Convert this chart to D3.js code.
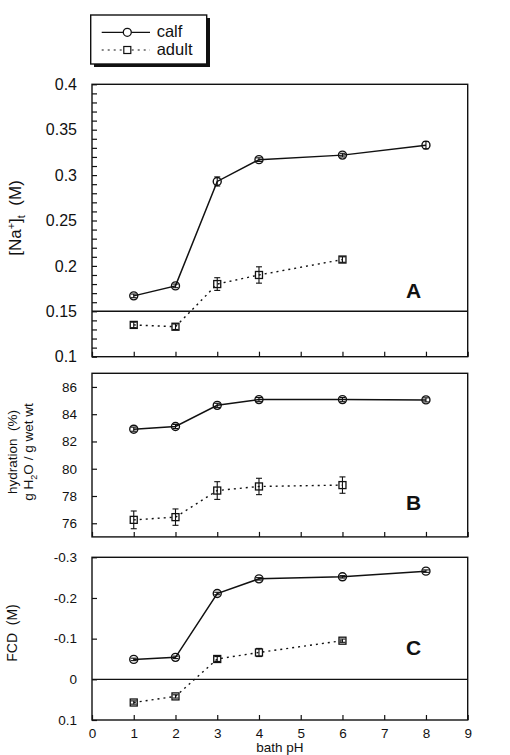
<!DOCTYPE html>
<html>
<head>
<meta charset="utf-8">
<script src="https://cdn.jsdelivr.net/npm/d3@7"></script>
<style>
  body { margin: 0; background: #fff; }
  svg { font-family: "Liberation Sans", Arial, sans-serif; }
</style>
</head>
<body>
<div id="viz-container"></div>
<script>
// bath pH for each group
let pHCalf = [1, 2, 3, 4, 6, 8];
let pHAdult = [1, 2, 3, 4, 6];

// panel A: [Na+]t (M)
let naCalf = [0.167, 0.178, 0.293, 0.317, 0.322, 0.333];
let naCalfErr = [0.002, 0.002, 0.005, 0.002, 0.002, 0.004];
let naAdult = [0.135, 0.133, 0.180, 0.190, 0.207];
let naAdultErr = [0.003, 0.003, 0.007, 0.009, 0.003];

// panel B: hydration (%)
let hydCalf = [82.9, 83.1, 84.65, 85.07, 85.07, 85.05];
let hydCalfErr = [0.15, 0.15, 0.15, 0.15, 0.15, 0.15];
let hydAdult = [76.25, 76.45, 78.4, 78.7, 78.8];
let hydAdultErr = [0.65, 0.6, 0.65, 0.6, 0.6];

// panel C: FCD (M)
let fcdCalf = [-0.049, -0.054, -0.211, -0.247, -0.252, -0.266];
let fcdCalfErr = [0.003, 0.003, 0.003, 0.003, 0.003, 0.003];
let fcdAdult = [0.057, 0.042, -0.050, -0.066, -0.095];
let fcdAdultErr = [0.004, 0.004, 0.006, 0.010, 0.004];

let xTicks = [0, 1, 2, 3, 4, 5, 6, 7, 8, 9];
let naTicks = [0.1, 0.15, 0.2, 0.25, 0.3, 0.35, 0.4];
let naLabels = ["0.1", "0.15", "0.2", "0.25", "0.3", "0.35", "0.4"];
let hydTicks = [76, 78, 80, 82, 84, 86];
let fcdTicks = [-0.3, -0.2, -0.1, 0, 0.1];
let fcdLabels = ["-0.3", "-0.2", "-0.1", "0", "0.1"];

let viz = d3.select("#viz-container")
    .append("svg")
        .attr("width", 510)
        .attr("height", 755)
;

let x = d3.scaleLinear().domain([0, 9]).range([92, 467.7]);

let yA = d3.scaleLinear().domain([0.1, 0.4]).range([356.7, 84.3]);
let yB = d3.scaleLinear().domain([75, 87]).range([536.9, 373.3]);
let yC = d3.scaleLinear().domain([-0.3, 0.1]).range([557.3, 720]);

function drawFrame(y) {
    let r = y.range();
    viz.append("rect")
        .attr("x", x(0)).attr("y", Math.min(r[0], r[1]))
        .attr("width", x(9) - x(0)).attr("height", Math.abs(r[0] - r[1]))
        .attr("fill", "none").attr("stroke", "#111").attr("stroke-width", 1.4);
}

function drawYAxis(y, ticks, labels, size) {
    let ax = d3.axisLeft(y).tickValues(ticks).tickSize(-5).tickPadding(15)
        .tickFormat((d, i) => labels[i]);
    let g = viz.append("g").attr("transform", `translate(${x(0)},0)`).call(ax);
    g.select(".domain").remove();
    g.selectAll("line").attr("stroke", "#111").attr("stroke-width", 1.2);
    g.selectAll("text").attr("font-size", size).attr("fill", "#111");
}

function drawXTicks(y, withLabels) {
    let yb = Math.max(y.range()[0], y.range()[1]);
    let ax = d3.axisBottom(x).tickValues(xTicks).tickSize(-5).tickPadding(8)
        .tickFormat(withLabels ? d3.format("d") : "");
    let g = viz.append("g").attr("transform", `translate(0,${yb})`).call(ax);
    g.select(".domain").remove();
    g.selectAll("line").attr("stroke", "#111").attr("stroke-width", 1.2);
    g.selectAll("text").attr("font-size", 13.5).attr("fill", "#111");
}

function drawSeries(y, xs, vals, errs, kind) {
    let pts = xs.map((d, i) => ({ x: d, v: vals[i], e: errs[i] }));
    let line = d3.line().x(d => x(d.x)).y(d => y(d.v));
    viz.append("path")
        .datum(pts)
        .attr("d", line)
        .attr("fill", "none")
        .attr("stroke", "#111")
        .attr("stroke-width", kind == "calf" ? 1.5 : 1.4)
        .attr("stroke-dasharray", kind == "calf" ? null : "2,4");

    // error bars
    let eb = viz.append("g").attr("stroke", "#111").attr("stroke-width", 1.1);
    pts.forEach(d => {
        let y1 = y(d.v - d.e), y2 = y(d.v + d.e);
        eb.append("line").attr("x1", x(d.x)).attr("x2", x(d.x)).attr("y1", y1).attr("y2", y2);
        eb.append("line").attr("x1", x(d.x) - 3).attr("x2", x(d.x) + 3).attr("y1", y1).attr("y2", y1);
        eb.append("line").attr("x1", x(d.x) - 3).attr("x2", x(d.x) + 3).attr("y1", y2).attr("y2", y2);
    });

    if (kind == "calf") {
        viz.selectAll(null).data(pts).enter()
            .append("circle")
                .attr("cx", d => x(d.x))
                .attr("cy", d => y(d.v))
                .attr("r", 4)
                .attr("fill", "none")
                .attr("stroke", "#111")
                .attr("stroke-width", 1.4);
    } else {
        viz.selectAll(null).data(pts).enter()
            .append("rect")
                .attr("x", d => x(d.x) - 3.5)
                .attr("y", d => y(d.v) - 3.5)
                .attr("width", 7)
                .attr("height", 7)
                .attr("fill", "none")
                .attr("stroke", "#111")
                .attr("stroke-width", 1.3);
    }
}

function hLine(y, v) {
    viz.append("line")
        .attr("x1", x(0)).attr("x2", x(9))
        .attr("y1", y(v)).attr("y2", y(v))
        .attr("stroke", "#111").attr("stroke-width", 1.4);
}

// panel A
drawFrame(yA);
drawYAxis(yA, d3.range(10, 41).map(d => d / 100), d3.range(10, 41).map(d => {
    let i = naTicks.findIndex(t => Math.abs(t - d / 100) < 1e-9);
    return i >= 0 ? naLabels[i] : "";
}), 16);
drawXTicks(yA, false);
hLine(yA, 0.15);
drawSeries(yA, pHAdult, naAdult, naAdultErr, "adult");
drawSeries(yA, pHCalf, naCalf, naCalfErr, "calf");

// panel B
drawFrame(yB);
drawYAxis(yB, hydTicks, hydTicks.map(String), 13.5);
drawXTicks(yB, false);
drawSeries(yB, pHAdult, hydAdult, hydAdultErr, "adult");
drawSeries(yB, pHCalf, hydCalf, hydCalfErr, "calf");

// panel C
drawFrame(yC);
drawYAxis(yC, fcdTicks, fcdLabels, 13.5);
drawXTicks(yC, true);
hLine(yC, 0);
drawSeries(yC, pHAdult, fcdAdult, fcdAdultErr, "adult");
drawSeries(yC, pHCalf, fcdCalf, fcdCalfErr, "calf");

// panel letters
let letters = [["A", yA, 0.165], ["B", yB, 77.0], ["C", yC, -0.06]];
letters.forEach(l => {
    viz.append("text")
        .attr("x", 413.5).attr("y", l[1](l[2]))
        .attr("text-anchor", "middle")
        .attr("font-size", 21).attr("font-weight", "bold")
        .attr("fill", "#111")
        .text(l[0]);
});

// y titles
let tA = viz.append("text")
    .attr("transform", "translate(21,218) rotate(-90)")
    .attr("text-anchor", "middle").attr("font-size", 17).attr("fill", "#111")
    .attr("xml:space", "preserve");
tA.append("tspan").text("[Na");
tA.append("tspan").attr("dy", -6).attr("font-size", 11).text("+");
tA.append("tspan").attr("dy", 6).text("]");
tA.append("tspan").attr("dy", 4).attr("font-size", 11).text("t");
tA.append("tspan").attr("dy", -4).text("  (M)");

viz.append("text")
    .attr("transform", "translate(17,452) rotate(-90)")
    .attr("text-anchor", "middle").attr("font-size", 13.5).attr("fill", "#111")
    .attr("xml:space", "preserve")
    .text("hydration  (%)");
let tB = viz.append("text")
    .attr("transform", "translate(33,452) rotate(-90)")
    .attr("text-anchor", "middle").attr("font-size", 13.5).attr("fill", "#111");
tB.append("tspan").text("g H");
tB.append("tspan").attr("dy", 4).attr("font-size", 9).text("2");
tB.append("tspan").attr("dy", -4).text("O / g wet wt");

viz.append("text")
    .attr("transform", "translate(17,633) rotate(-90)")
    .attr("text-anchor", "middle").attr("font-size", 14).attr("fill", "#111")
    .attr("xml:space", "preserve")
    .text("FCD  (M)");

viz.append("text")
    .attr("x", x(4.5)).attr("y", 752)
    .attr("text-anchor", "middle").attr("font-size", 13.5).attr("fill", "#111")
    .text("bath pH");

// legend
let lg = viz.append("g");
lg.append("rect").attr("x", 94).attr("y", 18).attr("width", 116).attr("height", 49).attr("fill", "#111");
lg.append("rect").attr("x", 90.7).attr("y", 15).attr("width", 116).attr("height", 49)
    .attr("fill", "#fff").attr("stroke", "#111").attr("stroke-width", 1.4);
lg.append("line").attr("x1", 101.7).attr("x2", 150).attr("y1", 32.3).attr("y2", 32.3)
    .attr("stroke", "#111").attr("stroke-width", 1.3);
lg.append("circle").attr("cx", 127.3).attr("cy", 32.3).attr("r", 4)
    .attr("fill", "#fff").attr("stroke", "#111").attr("stroke-width", 1.3);
lg.append("line").attr("x1", 101.7).attr("x2", 150).attr("y1", 50).attr("y2", 50)
    .attr("stroke", "#111").attr("stroke-width", 1.2).attr("stroke-dasharray", "2,4");
lg.append("rect").attr("x", 123.8).attr("y", 46.5).attr("width", 7).attr("height", 7)
    .attr("fill", "#fff").attr("stroke", "#111").attr("stroke-width", 1.2);
lg.append("text").attr("x", 156.7).attr("y", 37).attr("font-size", 16.5).attr("fill", "#111").text("calf");
lg.append("text").attr("x", 156.7).attr("y", 55).attr("font-size", 16.5).attr("fill", "#111").text("adult");
</script>
</body>
</html>
